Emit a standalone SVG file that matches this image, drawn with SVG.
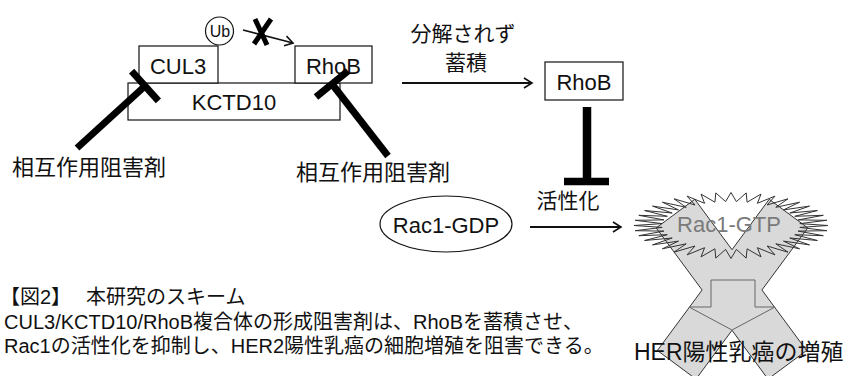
<svg xmlns="http://www.w3.org/2000/svg" width="846" height="376" viewBox="0 0 846 376">
  <defs>
    <style>
      text { font-family: "Liberation Sans", "Noto Sans CJK JP", sans-serif; fill: #111; }
      .box { fill: #fff; stroke: #111; stroke-width: 1.2; }
      .lbl { font-size: 22px; text-anchor: middle; }
      .jp { font-size: 21px; text-anchor: middle; }
      .inh { font-size: 22px; }
      .cap { font-size: 20px; }
      .arrow { stroke: #111; stroke-width: 1.8; fill: none; marker-end: url(#open); }
      .block { stroke: #000; stroke-width: 7; stroke-linecap: butt; fill: none; }
    </style>
    <marker id="open" viewBox="0 0 12 12" refX="10" refY="6" markerWidth="12" markerHeight="12" markerUnits="userSpaceOnUse" orient="auto">
      <path d="M2,1 L10,6 L2,11" fill="none" stroke="#111" stroke-width="1.6"/>
    </marker>
  </defs>

  <rect width="846" height="376" fill="#fff"/>

  <!-- CUL3 / KCTD10 / RhoB complex -->
  <g id="kctd10">
    <rect class="box" x="128" y="83" width="212" height="37"/>
    <text class="lbl" x="234" y="110">KCTD10</text>
  </g>
  <g id="cul3">
    <rect class="box" x="139" y="46" width="79" height="37"/>
    <text class="lbl" x="178" y="74">CUL3</text>
  </g>
  <g id="rhob-complex">
    <rect class="box" x="295" y="46" width="77" height="37"/>
    <text class="lbl" x="333.5" y="74">RhoB</text>
  </g>
  <g id="ub">
    <circle cx="219.5" cy="31" r="14" fill="#fff" stroke="#111" stroke-width="1.2"/>
    <text x="220" y="37" font-size="16" text-anchor="middle">Ub</text>
  </g>

  <!-- inhibitor labels -->
  <g id="inhibitor-left">
    <text class="inh" x="12" y="175">相互作用阻害剤</text>
  </g>
  <g id="inhibitor-right">
    <text class="inh" x="296" y="180">相互作用阻害剤</text>
  </g>

  <!-- accumulated RhoB -->
  <g id="rhob">
    <rect class="box" x="545" y="62" width="78" height="38"/>
    <text class="lbl" x="584" y="90">RhoB</text>
  </g>

  <!-- Rac1-GDP -->
  <g id="rac1-gdp">
    <ellipse cx="446" cy="224" rx="66" ry="28" fill="#fff" stroke="#111" stroke-width="1.2"/>
    <text class="lbl" x="446" y="233">Rac1-GDP</text>
  </g>

  <!-- Rac1-GTP burst with crossed-out proliferation arrow -->
  <g id="rac1-gtp">
    <polygon points="694.8,199.3 732,249.7 769.2,199.3 807.8,227.9 761.9,290 806.6,350.5 768,379.1 732,330.3 696,379.1 657.4,350.5 702.1,290 656.2,227.9" fill="#d9d9d9" stroke="#333" stroke-width="1"/>
    <polygon points="711,280 755,280 755,307 775,307 732,330 689,307 711,307" fill="#d9d9d9" stroke="#666" stroke-width="1"/>
    <polygon fill="none" stroke="#333" stroke-width="1" points="828,225.5 799.8,223.6 826.8,220.3 798.1,219.9 823.3,215.3 794.8,216.3 817.4,210.5 789.8,213 809.5,206.1 783.5,209.9 799.6,202.2 775.8,207.3 788,198.8 767.1,205 775,196.1 757.4,203.3 761,194.1 747.1,202.2 746.2,192.9 736.4,201.6 731,192.5 725.6,201.6 715.8,192.9 714.9,202.2 701,194.1 704.6,203.3 687,196.1 695,205 674,198.8 686.2,207.3 662.4,202.2 678.5,209.9 652.5,206.1 672.2,213 644.6,210.5 667.3,216.3 638.8,215.3 663.9,219.9 635.2,220.3 662.2,223.6 634,225.5 662.2,227.4 635.2,230.7 663.9,231.1 638.8,235.7 667.3,234.7 644.6,240.5 672.2,238 652.5,244.9 678.5,241.1 662.4,248.8 686.2,243.8 674,252.2 695,246 687,254.9 704.6,247.7 701,256.9 714.9,248.8 715.8,258.1 725.6,249.4 731,258.5 736.4,249.4 746.2,258.1 747.1,248.8 761,256.9 757.4,247.7 775,254.9 767.1,246 788,252.2 775.8,243.8 799.6,248.8 783.5,241.1 809.5,244.9 789.8,238 817.4,240.5 794.8,234.7 823.3,235.7 798.1,231.1 826.8,230.7 799.8,227.4"/>
    <text x="729" y="232" font-size="22" text-anchor="middle" style="fill:#7a7a7a">Rac1-GTP</text>
  </g>

  <g id="her-growth">
    <text x="634" y="360" font-size="23">HER陽性乳癌の増殖</text>
  </g>

  <!-- connectors -->
  <g id="connectors">
    <line class="arrow" x1="243" y1="30" x2="293" y2="43"/>
    <line x1="255" y1="19" x2="267" y2="45" stroke="#000" stroke-width="5"/>
    <line x1="271" y1="19" x2="254" y2="44" stroke="#000" stroke-width="5"/>

    <line class="block" x1="77" y1="148" x2="145" y2="86"/>
    <line class="block" x1="131.6" y1="71.2" x2="158.4" y2="100.8"/>
    <line class="block" x1="388" y1="156" x2="332" y2="84"/>
    <line class="block" x1="316" y1="97" x2="348" y2="71"/>

    <line class="arrow" x1="402" y1="83" x2="532" y2="83"/>
    <text class="jp" x="463" y="41">分解されず</text>
    <text class="jp" x="466" y="70">蓄積</text>

    <line x1="587" y1="107" x2="587" y2="179" stroke="#000" stroke-width="8.5"/>
    <line x1="564" y1="181.5" x2="609" y2="181.5" stroke="#000" stroke-width="7.5"/>

    <line class="arrow" x1="530" y1="227" x2="621" y2="227"/>
    <text class="jp" x="568" y="208">活性化</text>
  </g>

  <!-- caption -->
  <g id="caption">
    <text class="cap" x="0" y="304">【図2】<tspan x="86">本研究のスキーム</tspan></text>
    <text class="cap" x="4" y="329">CUL3/KCTD10/RhoB複合体の形成阻害剤は、RhoBを蓄積させ、</text>
    <text class="cap" x="4" y="353">Rac1の活性化を抑制し、HER2陽性乳癌の細胞増殖を阻害できる。</text>
  </g>
</svg>
